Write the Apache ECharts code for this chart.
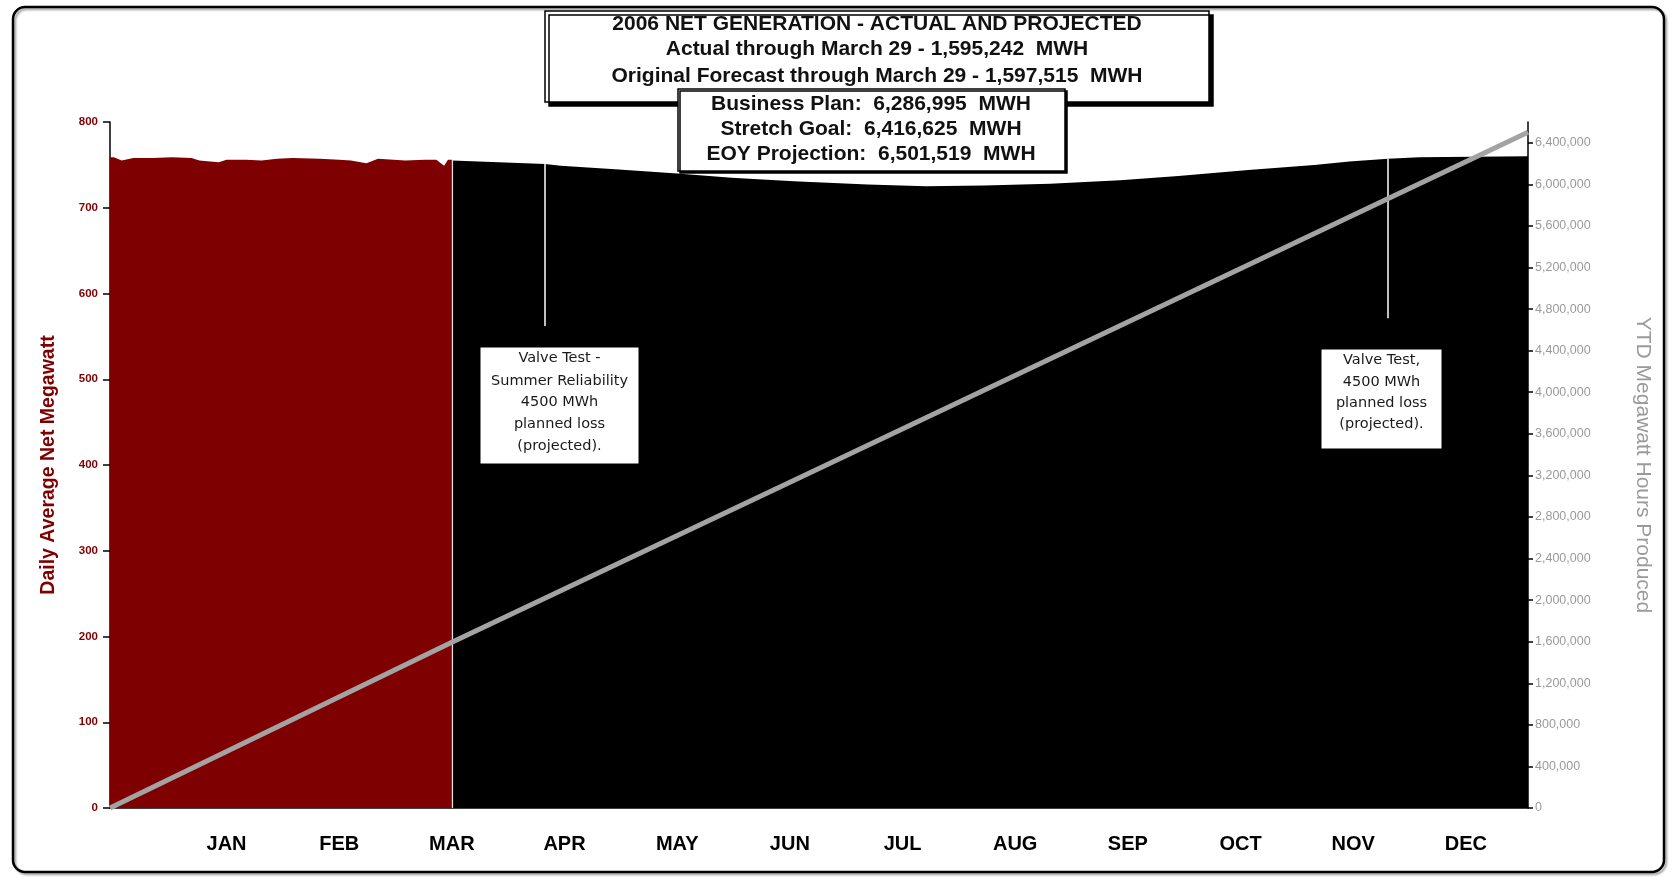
<!DOCTYPE html>
<html>
<head>
<meta charset="utf-8">
<script src="https://cdn.jsdelivr.net/npm/echarts@6/dist/echarts.min.js"></script>
<style>
  html, body { margin: 0; padding: 0; background: #fff; }
  #main { width: 1673px; height: 877px; }
</style>
</head>
<body>
<div id="main"></div>
<script>
// day of year 2006 (0 = Jan 1) for every point
var actualDays = [0, 1, 3, 6, 11, 16, 21, 23, 28, 30, 35, 39, 43, 47, 54, 59, 62, 66, 69, 73, 76, 81, 84, 86, 87, 88];
var actualMW   = [759, 759, 755, 758, 758, 759, 758, 755, 753, 756, 756, 755, 757, 758, 757, 756, 755, 752, 757, 756, 755, 756, 756, 749, 756, 756];

var projDays = [88, 100, 112, 116, 130, 146, 160, 176, 195, 210, 225, 242, 260, 275, 293, 310, 319, 329, 337, 365];
var projMW   = [755, 753, 751, 749, 745, 740, 735, 731, 727, 725, 726, 728, 732, 737, 744, 750, 754, 757, 759, 760];

// YTD megawatt hours
var ytdDays = [0, 88, 181, 273, 365];
var ytdMWH  = [0, 1595242, 3240000, 4870000, 6501519];

var monthLabels = ['JAN', 'FEB', 'MAR', 'APR', 'MAY', 'JUN', 'JUL', 'AUG', 'SEP', 'OCT', 'NOV', 'DEC'];
var monthLabelDays = [30, 59, 88, 117, 146, 175, 204, 233, 262, 291, 320, 349];

var titleLines = [
  '2006 NET GENERATION - ACTUAL AND PROJECTED',
  'Actual through March 29 - 1,595,242  MWH',
  'Original Forecast through March 29 - 1,597,515  MWH'
];
var planLines = [
  'Business Plan:  6,286,995  MWH',
  'Stretch Goal:  6,416,625  MWH',
  'EOY Projection:  6,501,519  MWH'
];
var note1 = ['Valve Test -', 'Summer Reliability', '4500 MWh', 'planned loss', '(projected).'];
var note2 = ['Valve Test,', '4500 MWh', 'planned loss', '(projected).'];

// pointer lines from the notes up to the area
var noteDays    = [112, 329];
var noteTops    = [751, 757];
var noteBottoms = [562, 571];

var actualEnd = 88;

function zip(xs, ys) {
  var out = [];
  for (var i = 0; i < xs.length; i++) out.push([xs[i], ys[i]]);
  return out;
}

var sans = '"Liberation Sans", Arial, sans-serif';
var darkRed = '#800000';

var chart = echarts.init(document.getElementById('main'));

var graphics = [];
// outer frame
graphics.push({
  type: 'rect', z: -1, silent: true,
  shape: { x: 13, y: 7, width: 1651, height: 865, r: 12 },
  style: { fill: 'none', stroke: '#000', lineWidth: 2.5, shadowColor: 'rgba(0,0,0,0.35)', shadowOffsetX: 2, shadowOffsetY: 2, shadowBlur: 2 }
});
// title box
graphics.push({
  type: 'rect', z: 100,
  shape: { x: 545, y: 11, width: 664, height: 91 },
  style: { fill: '#fff', stroke: '#000', lineWidth: 1.5, shadowColor: '#000', shadowOffsetX: 4, shadowOffsetY: 4, shadowBlur: 0 }
});
var titleY = [24, 49.5, 76];
titleLines.forEach(function (t, i) {
  graphics.push({
    type: 'text', z: 101,
    style: { text: t, x: 877, y: titleY[i], align: 'center', verticalAlign: 'middle', font: 'bold 21px ' + sans, fill: '#111' }
  });
});
// plan box
graphics.push({
  type: 'rect', z: 102,
  shape: { x: 678, y: 89, width: 387, height: 82 },
  style: { fill: '#fff', stroke: '#000', lineWidth: 1.5, shadowColor: '#000', shadowOffsetX: 2, shadowOffsetY: 2, shadowBlur: 0 }
});
var planY = [104, 129.5, 154];
planLines.forEach(function (t, i) {
  graphics.push({
    type: 'text', z: 103,
    style: { text: t, x: 871, y: planY[i], align: 'center', verticalAlign: 'middle', font: 'bold 21px ' + sans, fill: '#111' }
  });
});
// note boxes
function noteBox(x, y, w, h, lines, ys) {
  graphics.push({
    type: 'rect', z: 100,
    shape: { x: x, y: y, width: w, height: h },
    style: { fill: '#fff', stroke: '#000', lineWidth: 1 }
  });
  lines.forEach(function (t, i) {
    graphics.push({
      type: 'text', z: 101,
      style: { text: t, x: x + w / 2, y: ys[i], align: 'center', verticalAlign: 'middle', font: '14.5px "DejaVu Sans", sans-serif', fill: '#1a1a1a' }
    });
  });
}
noteBox(480, 347, 159, 117, note1, [358.5, 381, 402.5, 424.5, 446]);
noteBox(1321, 349, 121, 100, note2, [360.5, 382, 403, 424.5]);

var pointerLines = [];
for (var i = 0; i < noteDays.length; i++) {
  pointerLines.push([{ coord: [noteDays[i], noteTops[i]] }, { coord: [noteDays[i], noteBottoms[i]] }]);
}

var option = {
  backgroundColor: '#fff',
  animation: false,
  grid: { left: 110, right: 145, top: 122, bottom: 69 },
  xAxis: {
    type: 'value', min: 0, max: 365,
    splitLine: { show: false },
    axisLine: { show: true, onZero: false, lineStyle: { color: '#000', width: 1.5 } },
    axisTick: { show: false },
    axisLabel: {
      show: true,
      customValues: monthLabelDays,
      margin: 26,
      formatter: function (v) {
        var k = monthLabelDays.indexOf(v);
        return k >= 0 ? monthLabels[k] : '';
      },
      color: '#000', fontWeight: 'bold', fontSize: 20, fontFamily: sans
    }
  },
  yAxis: [
    {
      type: 'value', min: 0, max: 800, interval: 100,
      position: 'left',
      name: 'Daily Average Net Megawatt',
      nameLocation: 'middle', nameGap: 51, nameRotate: 90,
      nameTextStyle: { color: darkRed, fontSize: 19.5, fontWeight: 'bold', fontFamily: sans },
      splitLine: { show: false },
      axisLine: { show: true, lineStyle: { color: '#000', width: 1.5 } },
      axisTick: { show: true, inside: false, length: 7, lineStyle: { color: '#000', width: 1.5 } },
      axisLabel: { color: darkRed, fontSize: 11.5, fontWeight: 'bold', margin: 12, fontFamily: sans }
    },
    {
      type: 'value', min: 0, max: 6600000, interval: 400000,
      position: 'right',
      name: 'YTD Megawatt Hours Produced',
      nameLocation: 'middle', nameGap: 104, nameRotate: -90,
      nameTextStyle: { color: '#9a9a9a', fontSize: 21, fontFamily: sans },
      splitLine: { show: false },
      axisLine: { show: true, lineStyle: { color: '#000', width: 1.5 } },
      axisTick: { show: true, length: 5, lineStyle: { color: '#000', width: 1.5 } },
      axisLabel: {
        color: '#9a9a9a', fontSize: 12.5, margin: 7, showMaxLabel: false,
        fontFamily: sans,
        formatter: function (v) { return v.toLocaleString('en-US'); }
      }
    }
  ],
  series: [
    {
      name: 'Actual', type: 'line', yAxisIndex: 0,
      data: zip(actualDays, actualMW),
      symbol: 'none', lineStyle: { width: 0 },
      areaStyle: { color: '#7f0000', opacity: 1 },
      z: 2,
      markLine: {
        silent: true, symbol: 'none', label: { show: false },
        lineStyle: { color: '#e0e0e0', width: 1.2, type: 'solid' },
        data: [[{ coord: [actualEnd, 0] }, { coord: [actualEnd, actualMW[actualMW.length - 1]] }]]
      }
    },
    {
      name: 'Projected', type: 'line', yAxisIndex: 0,
      data: zip(projDays, projMW),
      symbol: 'none', lineStyle: { width: 0 },
      areaStyle: { color: '#000', opacity: 1 },
      z: 2,
      markLine: {
        silent: true, symbol: 'none', label: { show: false },
        lineStyle: { color: '#fff', width: 1.5, type: 'solid' },
        data: pointerLines
      }
    },
    {
      name: 'YTD', type: 'line', yAxisIndex: 1,
      data: zip(ytdDays, ytdMWH),
      symbol: 'none',
      lineStyle: { color: '#a3a3a3', width: 5 },
      z: 5
    }
  ],
  graphic: graphics
};

chart.setOption(option);
</script>
</body>
</html>
